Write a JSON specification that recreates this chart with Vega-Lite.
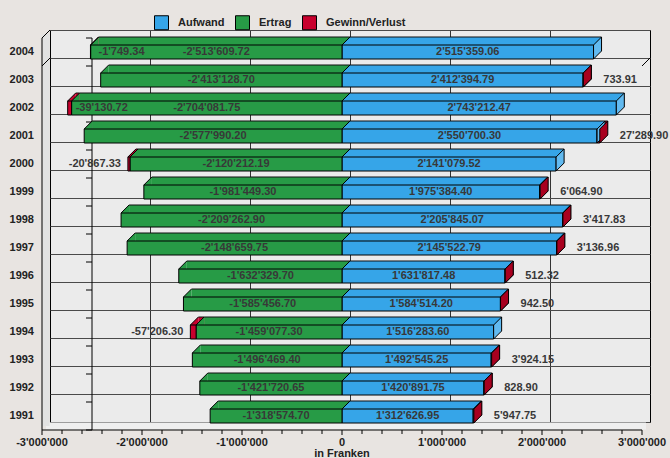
{
  "$schema": "https://vega.github.io/schema/vega-lite/v6.json",
  "width": 600,
  "height": 392,
  "autosize": {"type": "none"},
  "padding": {"left": 50, "top": 30, "right": 20, "bottom": 36},
  "background": "#e8e4e1",
  "config": {
    "view": {"fill": "#ebebeb", "stroke": "#000000", "strokeWidth": 1},
    "font": "Liberation Sans",
    "locale": {"number": {"decimal": ".", "thousands": "'", "grouping": [3], "currency": ["", ""], "minus": "-"}},
    "axis": {"labelFont": "Liberation Sans", "labelFontWeight": "bold", "labelFontSize": 11, "labelColor": "#222222", "titleFont": "Liberation Sans", "titleFontWeight": "bold", "titleFontSize": 11, "titleColor": "#222222"},
    "text": {"font": "Liberation Sans", "fontWeight": "bold", "fontSize": 11, "color": "#383838"}
  },
  "data": {
    "values": [
      {"Jahr": 2004, "Reihe": "Aufwand", "Betrag": 2515359.06},
      {"Jahr": 2004, "Reihe": "Ertrag", "Betrag": -2513609.72},
      {"Jahr": 2004, "Reihe": "Gewinn/Verlust", "Betrag": -1749.34},
      {"Jahr": 2003, "Reihe": "Aufwand", "Betrag": 2412394.79},
      {"Jahr": 2003, "Reihe": "Ertrag", "Betrag": -2413128.70},
      {"Jahr": 2003, "Reihe": "Gewinn/Verlust", "Betrag": 733.91},
      {"Jahr": 2002, "Reihe": "Aufwand", "Betrag": 2743212.47},
      {"Jahr": 2002, "Reihe": "Ertrag", "Betrag": -2704081.75},
      {"Jahr": 2002, "Reihe": "Gewinn/Verlust", "Betrag": -39130.72},
      {"Jahr": 2001, "Reihe": "Aufwand", "Betrag": 2550700.30},
      {"Jahr": 2001, "Reihe": "Ertrag", "Betrag": -2577990.20},
      {"Jahr": 2001, "Reihe": "Gewinn/Verlust", "Betrag": 27289.90},
      {"Jahr": 2000, "Reihe": "Aufwand", "Betrag": 2141079.52},
      {"Jahr": 2000, "Reihe": "Ertrag", "Betrag": -2120212.19},
      {"Jahr": 2000, "Reihe": "Gewinn/Verlust", "Betrag": -20867.33},
      {"Jahr": 1999, "Reihe": "Aufwand", "Betrag": 1975384.40},
      {"Jahr": 1999, "Reihe": "Ertrag", "Betrag": -1981449.30},
      {"Jahr": 1999, "Reihe": "Gewinn/Verlust", "Betrag": 6064.90},
      {"Jahr": 1998, "Reihe": "Aufwand", "Betrag": 2205845.07},
      {"Jahr": 1998, "Reihe": "Ertrag", "Betrag": -2209262.90},
      {"Jahr": 1998, "Reihe": "Gewinn/Verlust", "Betrag": 3417.83},
      {"Jahr": 1997, "Reihe": "Aufwand", "Betrag": 2145522.79},
      {"Jahr": 1997, "Reihe": "Ertrag", "Betrag": -2148659.75},
      {"Jahr": 1997, "Reihe": "Gewinn/Verlust", "Betrag": 3136.96},
      {"Jahr": 1996, "Reihe": "Aufwand", "Betrag": 1631817.48},
      {"Jahr": 1996, "Reihe": "Ertrag", "Betrag": -1632329.70},
      {"Jahr": 1996, "Reihe": "Gewinn/Verlust", "Betrag": 512.32},
      {"Jahr": 1995, "Reihe": "Aufwand", "Betrag": 1584514.20},
      {"Jahr": 1995, "Reihe": "Ertrag", "Betrag": -1585456.70},
      {"Jahr": 1995, "Reihe": "Gewinn/Verlust", "Betrag": 942.50},
      {"Jahr": 1994, "Reihe": "Aufwand", "Betrag": 1516283.60},
      {"Jahr": 1994, "Reihe": "Ertrag", "Betrag": -1459077.30},
      {"Jahr": 1994, "Reihe": "Gewinn/Verlust", "Betrag": -57206.30},
      {"Jahr": 1993, "Reihe": "Aufwand", "Betrag": 1492545.25},
      {"Jahr": 1993, "Reihe": "Ertrag", "Betrag": -1496469.40},
      {"Jahr": 1993, "Reihe": "Gewinn/Verlust", "Betrag": 3924.15},
      {"Jahr": 1992, "Reihe": "Aufwand", "Betrag": 1420891.75},
      {"Jahr": 1992, "Reihe": "Ertrag", "Betrag": -1421720.65},
      {"Jahr": 1992, "Reihe": "Gewinn/Verlust", "Betrag": 828.90},
      {"Jahr": 1991, "Reihe": "Aufwand", "Betrag": 1312626.95},
      {"Jahr": 1991, "Reihe": "Ertrag", "Betrag": -1318574.70},
      {"Jahr": 1991, "Reihe": "Gewinn/Verlust", "Betrag": 5947.75}
    ]
  },
  "resolve": {"axis": {"x": "independent", "y": "independent"}},
  "layer": [
    {
      "mark": {"type": "bar", "height": 8, "yOffset": -3, "y2Offset": -3},
      "encoding": {
        "x": {"field": "Betrag", "type": "quantitative", "scale": {"domain": [-3000000, 3000000], "nice": false, "zero": false},
              "axis": {"orient": "bottom", "grid": true, "labels": false, "ticks": false, "domain": false, "title": null,
                       "values": [-2000000, -1000000, 0, 1000000, 2000000], "gridColor": "#333333", "gridOpacity": 1, "gridWidth": 1}},
        "y": {"field": "Jahr", "type": "ordinal", "sort": "descending", "scale": {"paddingInner": 0, "paddingOuter": 0},
              "axis": {"orient": "left", "grid": true, "tickBand": "extent", "labels": false, "ticks": false, "domain": false, "title": null,
                       "gridColor": "#4a4a4a", "gridOpacity": 1, "gridWidth": 1}},
        "color": {"field": "Reihe", "type": "nominal", "scale": {"domain": ["Aufwand", "Ertrag", "Gewinn/Verlust"], "range": ["#36a5e8", "#279b46", "#c8002d"]}},
        "order": {"field": "Reihe", "type": "ordinal"}
      }
    },
    {
      "mark": {"type": "bar", "height": 1, "yOffset": -7, "y2Offset": -7, "color": "#111111"},
      "encoding": {
        "x": {"field": "Betrag", "type": "quantitative", "scale": {"domain": [-3000000, 3000000], "nice": false, "zero": false},
              "axis": {"orient": "bottom", "offset": 8, "translate": -4, "labels": false, "ticks": false, "grid": false, "title": null,
                       "domainColor": "#efefef", "domainWidth": 7}},
        "y": {"field": "Jahr", "type": "ordinal", "sort": "descending", "scale": {"paddingInner": 0, "paddingOuter": 0},
              "axis": {"orient": "left", "offset": 8, "translate": 4, "labels": false, "ticks": false, "grid": false, "title": null,
                       "domainColor": "#e2e2e2", "domainWidth": 7}},
        "detail": {"field": "Reihe", "type": "nominal"},
        "order": {"field": "Reihe", "type": "ordinal"}
      }
    },
    {
      "transform": [{"filter": "datum.Betrag < 0"}],
      "mark": {"type": "point", "shape": "M-8,1 L0,1 L0,-7 Z", "size": 4, "filled": true, "strokeWidth": 0},
      "encoding": {
        "x": {"field": "Betrag", "type": "quantitative", "stack": "zero", "scale": {"domain": [-3000000, 3000000], "nice": false, "zero": false},
              "axis": {"orient": "bottom", "offset": 16, "translate": -8, "values": [-3000000, -2000000, -1000000, 0, 1000000, 2000000, 3000000],
                       "format": ",.0f", "labelFlush": false, "labelOverlap": false, "grid": false, "domainColor": "#000000", "tickColor": "#000000",
                       "tickSize": 5, "labelPadding": 2, "title": "in Franken", "titlePadding": 0}},
        "y": {"field": "Jahr", "type": "ordinal", "sort": "descending", "scale": {"paddingInner": 0, "paddingOuter": 0},
              "axis": {"orient": "left", "offset": -34, "translate": 8, "tickBand": "extent", "grid": false, "domainColor": "#000000",
                       "tickColor": "#000000", "tickSize": 6, "labelPadding": 52, "title": null}},
        "color": {"field": "Reihe", "type": "nominal", "scale": {"domain": ["Aufwand", "Ertrag", "Gewinn/Verlust"], "range": ["#36a5e8", "#279b46", "#c8002d"]}},
        "opacity": {"condition": {"test": "datum.Reihe == 'Gewinn/Verlust'", "value": 1}, "value": 0},
        "order": {"field": "Reihe", "type": "ordinal"}
      }
    },
    {
      "transform": [{"filter": "datum.Reihe == 'Ertrag'"}],
      "mark": {"type": "point", "shape": "M-8,1 L0,1 L0,-7 Z", "size": 4, "filled": true, "strokeWidth": 0, "opacity": 1},
      "encoding": {
        "x": {"field": "Betrag", "type": "quantitative", "scale": {"domain": [-3000000, 3000000], "nice": false, "zero": false}, "axis": null},
        "y": {"field": "Jahr", "type": "ordinal", "sort": "descending", "scale": {"paddingInner": 0, "paddingOuter": 0}, "axis": null},
        "color": {"field": "Reihe", "type": "nominal", "scale": {"domain": ["Aufwand", "Ertrag", "Gewinn/Verlust"], "range": ["#36a5e8", "#279b46", "#c8002d"]}}
      }
    },
    {
      "transform": [{"filter": "datum.Reihe == 'Aufwand'"}],
      "mark": {"type": "point", "shape": "M-8,1 L0,1 L0,-7 Z", "size": 4, "filled": true, "strokeWidth": 0, "opacity": 1},
      "encoding": {
        "x": {"datum": 0, "type": "quantitative", "scale": {"domain": [-3000000, 3000000], "nice": false, "zero": false}, "axis": null},
        "y": {"field": "Jahr", "type": "ordinal", "sort": "descending", "scale": {"paddingInner": 0, "paddingOuter": 0}, "axis": null},
        "color": {"field": "Reihe", "type": "nominal", "scale": {"domain": ["Aufwand", "Ertrag", "Gewinn/Verlust"], "range": ["#36a5e8", "#279b46", "#c8002d"]}}
      }
    },
    {
      "transform": [{"filter": "datum.Betrag < 0"}],
      "mark": {"type": "point", "shape": "M-8,1 L0,-7", "size": 4, "filled": false, "color": "#000000", "strokeWidth": 1, "opacity": 1},
      "encoding": {
        "x": {"field": "Betrag", "type": "quantitative", "stack": "zero", "scale": {"domain": [-3000000, 3000000], "nice": false, "zero": false}, "axis": null},
        "y": {"field": "Jahr", "type": "ordinal", "sort": "descending", "scale": {"paddingInner": 0, "paddingOuter": 0}, "axis": null},
        "detail": {"field": "Reihe", "type": "nominal"},
        "order": {"field": "Reihe", "type": "ordinal"}
      }
    },
    {
      "transform": [{"filter": "datum.Reihe == 'Aufwand'"}],
      "mark": {"type": "point", "shape": "M-8,1 L0,-7", "size": 4, "filled": false, "color": "#000000", "strokeWidth": 1, "opacity": 1},
      "encoding": {
        "x": {"datum": 0, "type": "quantitative", "scale": {"domain": [-3000000, 3000000], "nice": false, "zero": false}, "axis": null},
        "y": {"field": "Jahr", "type": "ordinal", "sort": "descending", "scale": {"paddingInner": 0, "paddingOuter": 0}, "axis": null}
      }
    },
    {
      "mark": {"type": "bar", "height": 14, "xOffset": -8, "x2Offset": -8, "yOffset": 8, "y2Offset": 8, "stroke": "#000000", "strokeWidth": 1},
      "encoding": {
        "x": {"field": "Betrag", "type": "quantitative", "scale": {"domain": [-3000000, 3000000], "nice": false, "zero": false},
              "axis": {"orient": "bottom", "offset": 16, "translate": -8, "labels": false, "domain": false, "grid": false, "title": null,
                       "tickSize": 4, "tickColor": "#000000",
                       "values": [-2800000, -2600000, -2400000, -2200000, -1800000, -1600000, -1400000, -1200000, -800000, -600000, -400000, -200000,
                                  200000, 400000, 600000, 800000, 1200000, 1400000, 1600000, 1800000, 2200000, 2400000, 2600000, 2800000]}},
        "y": {"field": "Jahr", "type": "ordinal", "sort": "descending", "scale": {"paddingInner": 0, "paddingOuter": 0},
              "axis": {"orient": "left", "offset": 16, "translate": 8, "labels": false, "ticks": false, "grid": false, "title": null, "domainColor": "#000000"}},
        "color": {"field": "Reihe", "type": "nominal", "scale": {"domain": ["Aufwand", "Ertrag", "Gewinn/Verlust"], "range": ["#36a5e8", "#279b46", "#c8002d"]},
                  "legend": {"orient": "none", "legendX": 104, "legendY": -15, "direction": "horizontal", "title": null, "symbolType": "square",
                             "symbolSize": 196, "symbolStrokeColor": "#000000", "symbolStrokeWidth": 1, "labelFont": "Liberation Sans",
                             "labelFontSize": 11, "labelFontWeight": "bold", "labelColor": "#222222", "labelOffset": 9, "columnPadding": 8, "padding": 0}},
        "order": {"field": "Reihe", "type": "ordinal"}
      }
    },
    {
      "transform": [{"filter": "datum.Betrag > 0"}],
      "mark": {"type": "point", "shape": "M-8,1 L0,-7 L0,7 L-8,15 Z", "size": 4, "filled": true, "stroke": "#000000", "strokeWidth": 1, "opacity": 1},
      "encoding": {
        "x": {"field": "Betrag", "type": "quantitative", "stack": "zero", "scale": {"domain": [-3000000, 3000000], "nice": false, "zero": false}, "axis": null},
        "y": {"field": "Jahr", "type": "ordinal", "sort": "descending", "scale": {"paddingInner": 0, "paddingOuter": 0}, "axis": null},
        "fill": {"field": "Reihe", "type": "nominal", "scale": {"domain": ["Aufwand", "Ertrag", "Gewinn/Verlust"], "range": ["#62baf0", "#3aab58", "#a8001f"]}, "legend": null},
        "detail": {"field": "Reihe", "type": "nominal"},
        "order": {"field": "Reihe", "type": "ordinal"}
      }
    },
    {
      "transform": [{"filter": "datum.Reihe != 'Gewinn/Verlust'"}],
      "mark": {"type": "text", "xOffset": -8, "yOffset": 8, "align": "center", "baseline": "middle"},
      "encoding": {
        "x": {"field": "Betrag", "type": "quantitative", "stack": "zero", "bandPosition": 0.5, "scale": {"domain": [-3000000, 3000000], "nice": false, "zero": false}, "axis": null},
        "y": {"field": "Jahr", "type": "ordinal", "sort": "descending", "scale": {"paddingInner": 0, "paddingOuter": 0}, "axis": null},
        "detail": {"field": "Reihe", "type": "nominal"},
        "text": {"field": "Betrag", "type": "quantitative", "format": ",.2f"}
      }
    },
    {
      "transform": [
        {"filter": "datum.Betrag > 0"},
        {"joinaggregate": [{"op": "sum", "field": "Betrag", "as": "Rechts"}], "groupby": ["Jahr"]},
        {"filter": "datum.Reihe == 'Gewinn/Verlust'"}
      ],
      "mark": {"type": "text", "xOffset": 12, "yOffset": 8, "align": "left", "baseline": "middle"},
      "encoding": {
        "x": {"field": "Rechts", "type": "quantitative", "scale": {"domain": [-3000000, 3000000], "nice": false, "zero": false}, "axis": null},
        "y": {"field": "Jahr", "type": "ordinal", "sort": "descending", "scale": {"paddingInner": 0, "paddingOuter": 0}, "axis": null},
        "text": {"field": "Betrag", "type": "quantitative", "format": ",.2f"}
      }
    },
    {
      "transform": [
        {"filter": "datum.Betrag < 0"},
        {"joinaggregate": [{"op": "sum", "field": "Betrag", "as": "Links"}], "groupby": ["Jahr"]},
        {"filter": "datum.Reihe == 'Gewinn/Verlust' && datum.Links > -2450000"}
      ],
      "mark": {"type": "text", "xOffset": -15, "yOffset": 8, "align": "right", "baseline": "middle"},
      "encoding": {
        "x": {"field": "Links", "type": "quantitative", "scale": {"domain": [-3000000, 3000000], "nice": false, "zero": false}, "axis": null},
        "y": {"field": "Jahr", "type": "ordinal", "sort": "descending", "scale": {"paddingInner": 0, "paddingOuter": 0}, "axis": null},
        "text": {"field": "Betrag", "type": "quantitative", "format": ",.2f"}
      }
    },
    {
      "transform": [
        {"filter": "datum.Betrag < 0"},
        {"joinaggregate": [{"op": "sum", "field": "Betrag", "as": "Links"}], "groupby": ["Jahr"]},
        {"filter": "datum.Reihe == 'Gewinn/Verlust' && datum.Links <= -2450000"}
      ],
      "mark": {"type": "text", "xOffset": 0, "yOffset": 8, "align": "left", "baseline": "middle"},
      "encoding": {
        "x": {"field": "Links", "type": "quantitative", "scale": {"domain": [-3000000, 3000000], "nice": false, "zero": false}, "axis": null},
        "y": {"field": "Jahr", "type": "ordinal", "sort": "descending", "scale": {"paddingInner": 0, "paddingOuter": 0}, "axis": null},
        "text": {"field": "Betrag", "type": "quantitative", "format": ",.2f"}
      }
    },
    {
      "transform": [{"aggregate": [{"op": "max", "field": "Jahr", "as": "Jahr"}]}],
      "mark": {"type": "point", "shape": "M0,-14 L-8,-6", "size": 4, "filled": false, "color": "#000000", "strokeWidth": 1, "opacity": 1},
      "encoding": {
        "x": {"datum": -3000000, "type": "quantitative", "scale": {"domain": [-3000000, 3000000], "nice": false, "zero": false}, "axis": null},
        "y": {"field": "Jahr", "type": "ordinal", "sort": "descending", "scale": {"paddingInner": 0, "paddingOuter": 0}, "axis": null}
      }
    },
    {
      "transform": [{"aggregate": [{"op": "min", "field": "Jahr", "as": "Jahr"}]}],
      "mark": {"type": "point", "shape": "M0,14 L-8,22", "size": 4, "filled": false, "color": "#000000", "strokeWidth": 1, "opacity": 1},
      "encoding": {
        "x": {"datum": -3000000, "type": "quantitative", "scale": {"domain": [-3000000, 3000000], "nice": false, "zero": false}, "axis": null},
        "y": {"field": "Jahr", "type": "ordinal", "sort": "descending", "scale": {"paddingInner": 0, "paddingOuter": 0}, "axis": null}
      }
    },
    {
      "transform": [{"aggregate": [{"op": "min", "field": "Jahr", "as": "Jahr"}]}],
      "mark": {"type": "point", "shape": "M0,14 L-8,22", "size": 4, "filled": false, "color": "#000000", "strokeWidth": 1, "opacity": 1},
      "encoding": {
        "x": {"datum": 3000000, "type": "quantitative", "scale": {"domain": [-3000000, 3000000], "nice": false, "zero": false}, "axis": null},
        "y": {"field": "Jahr", "type": "ordinal", "sort": "descending", "scale": {"paddingInner": 0, "paddingOuter": 0}, "axis": null}
      }
    }
  ]
}
